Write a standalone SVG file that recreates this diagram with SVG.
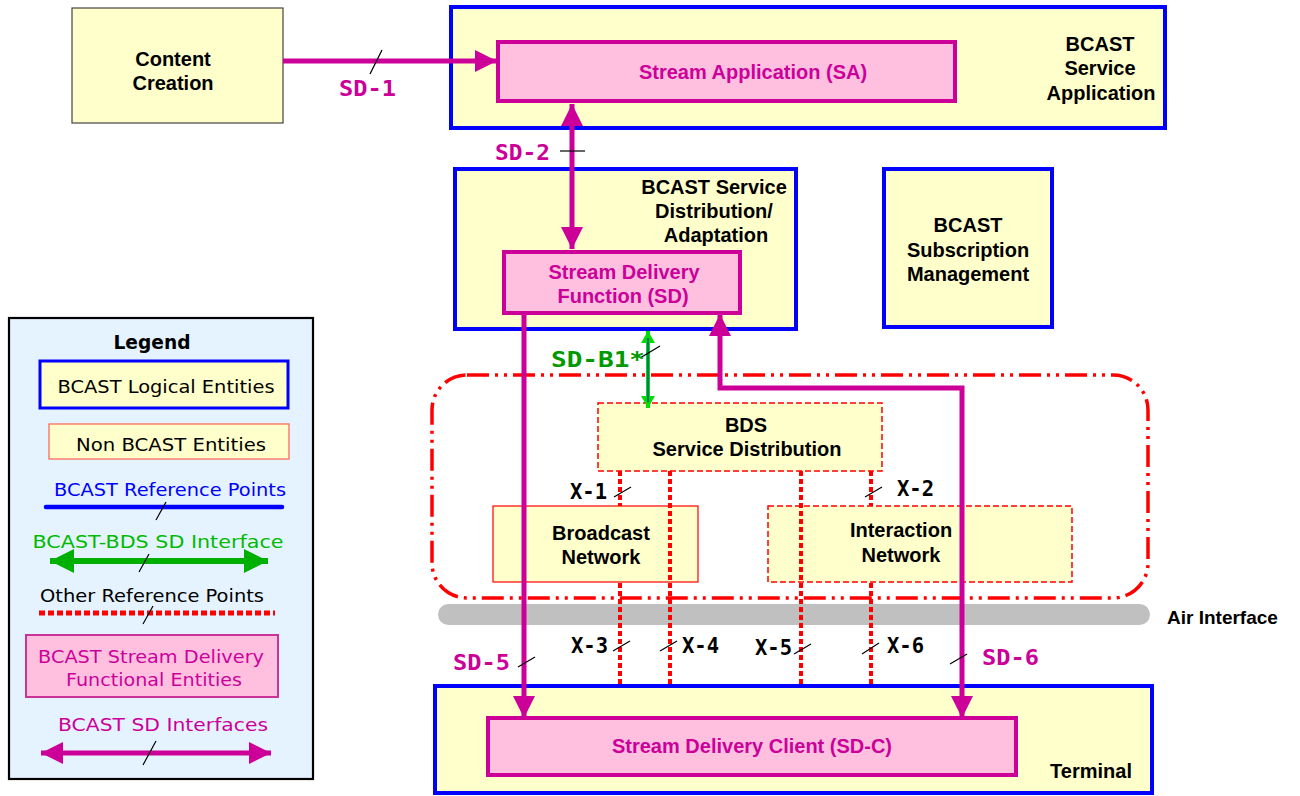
<svg xmlns="http://www.w3.org/2000/svg" width="1300" height="796" viewBox="0 0 1300 796">
<style>
.blue{fill:#FFFFCC;stroke:#0000FF;stroke-width:4}
.pink{fill:#FFC0E0;stroke:#CC0099;stroke-width:4}
.non{fill:#FFFFCC;stroke:#FF0000;stroke-width:1.2}
.nond{fill:#FFFFCC;stroke:#FF0000;stroke-width:1.5;stroke-dasharray:6 3}
.t{font-family:"Liberation Sans",Arial,sans-serif;font-weight:bold;font-size:20px;fill:#000;text-anchor:middle}
.tm{font-family:"Liberation Sans",Arial,sans-serif;font-weight:bold;font-size:20px;fill:#CC0099;text-anchor:middle}
.lab{font-family:"DejaVu Sans Mono",monospace;font-weight:bold;font-size:21px}
.lg{font-family:"DejaVu Sans","Noto Sans",sans-serif;font-size:18px;text-anchor:middle}
.tick{stroke:#000;stroke-width:1.2}
.sd{fill:none;stroke:#CC0099;stroke-width:5}
.dot{fill:none;stroke:#FF0000;stroke-width:4;stroke-dasharray:5 3}
</style>
<defs>
<marker id="mh" viewBox="0 0 10 10" refX="10" refY="5" markerWidth="22" markerHeight="22" markerUnits="userSpaceOnUse" orient="auto-start-reverse"><path d="M0,0 L10,5 L0,10 z" fill="#CC0099"/></marker>
<marker id="gh" viewBox="0 0 10 10" refX="10" refY="5" markerWidth="24" markerHeight="24" markerUnits="userSpaceOnUse" orient="auto-start-reverse"><path d="M0,0 L10,5 L0,10 z" fill="#00B000"/></marker>
<marker id="gs" viewBox="0 0 10 10" refX="10" refY="5" markerWidth="12" markerHeight="14" markerUnits="userSpaceOnUse" orient="auto-start-reverse" preserveAspectRatio="none"><path d="M0,0 L10,5 L0,10 z" fill="#00DD00"/></marker>
</defs>

<!-- background structures -->
<g id="bds-domain">
<rect x="432" y="375" width="716" height="223" rx="35" fill="none" stroke="#FF0000" stroke-width="3.5" stroke-dasharray="22 6 3 6 3 6"/>
</g>
<g id="air-interface">
<rect x="438" y="604" width="712" height="21" rx="10.5" fill="#C0C0C0"/>
<text class="t" x="1167" y="624" style="text-anchor:start;font-size:19px">Air Interface</text>
</g>

<!-- reference points under boxes -->
<g id="ref-under">
<line class="dot" x1="620" y1="471" x2="620" y2="684"/>
<line class="dot" x1="871" y1="471" x2="871" y2="684"/>
</g>

<g id="content-creation">
<rect x="72" y="8" width="211" height="115" fill="#FFFFCC" stroke="#444" stroke-width="1.2"/>
<text class="t" x="173" y="66">Content</text>
<text class="t" x="173" y="90">Creation</text>
</g>

<g id="bcast-service-application">
<rect class="blue" x="451" y="7" width="714" height="121"/>
<text class="t" x="1100" y="51">BCAST</text>
<text class="t" x="1100" y="75">Service</text>
<text class="t" x="1101" y="100">Application</text>
</g>
<g id="stream-application">
<rect class="pink" x="498" y="42" width="457" height="59"/>
<text class="tm" x="753" y="79">Stream Application (SA)</text>
</g>

<g id="bcast-sda">
<rect class="blue" x="455" y="169" width="341" height="160"/>
<text class="t" x="714" y="194">BCAST Service</text>
<text class="t" x="714" y="218">Distribution/</text>
<text class="t" x="716" y="242">Adaptation</text>
</g>
<g id="stream-delivery-function">
<rect class="pink" x="504" y="252" width="236" height="61"/>
<text class="tm" x="624" y="279">Stream Delivery</text>
<text class="tm" x="623" y="303">Function (SD)</text>
</g>

<g id="bcast-subscription">
<rect class="blue" x="884" y="169" width="168" height="158"/>
<text class="t" x="968" y="232">BCAST</text>
<text class="t" x="968" y="257">Subscription</text>
<text class="t" x="968" y="281">Management</text>
</g>

<g id="bds-service-distribution">
<rect class="nond" x="598" y="403" width="284" height="68"/>
<text class="t" x="746" y="432">BDS</text>
<text class="t" x="747" y="456">Service Distribution</text>
</g>
<g id="broadcast-network">
<rect class="non" x="493" y="506" width="205" height="76"/>
<text class="t" x="601" y="540">Broadcast</text>
<text class="t" x="601" y="564">Network</text>
</g>
<g id="interaction-network">
<rect class="nond" x="768" y="506" width="304" height="76"/>
<text class="t" x="901" y="537">Interaction</text>
<text class="t" x="901" y="562">Network</text>
</g>

<g id="terminal">
<rect class="blue" x="435" y="686" width="717" height="107"/>
<text class="t" x="1091" y="778">Terminal</text>
</g>
<g id="stream-delivery-client">
<rect class="pink" x="488" y="718" width="528" height="57"/>
<text class="tm" x="752" y="753">Stream Delivery Client (SD-C)</text>
</g>

<!-- connectors -->
<g id="connectors">
<line class="dot" x1="670" y1="471" x2="670" y2="687"/>
<line class="dot" x1="801" y1="471" x2="801" y2="684"/>
<line class="sd" x1="283" y1="61" x2="497" y2="61" marker-end="url(#mh)"/>
<line class="sd" x1="572" y1="104" x2="572" y2="249" marker-start="url(#mh)" marker-end="url(#mh)"/>
<line class="sd" x1="524" y1="313" x2="524" y2="718" marker-end="url(#mh)"/>
<polyline class="sd" points="720,314 720,388 962,388 962,718" marker-start="url(#mh)" marker-end="url(#mh)"/>
<line x1="648" y1="331" x2="648" y2="408" stroke="#00DD00" stroke-width="4" marker-start="url(#gs)" marker-end="url(#gs)"/>
<line x1="648" y1="338" x2="648" y2="402" stroke="#0000FF" stroke-width="1"/>

<line class="tick" x1="370" y1="74" x2="382" y2="50"/>
<line class="tick" x1="560" y1="151" x2="585" y2="151"/>
<line class="tick" x1="640" y1="358" x2="660" y2="346"/>
<line class="tick" x1="614" y1="497" x2="631" y2="487"/>
<line class="tick" x1="865" y1="497" x2="882" y2="487"/>
<line class="tick" x1="613" y1="651" x2="630" y2="641"/>
<line class="tick" x1="660" y1="651" x2="677" y2="641"/>
<line class="tick" x1="794" y1="654" x2="811" y2="644"/>
<line class="tick" x1="862" y1="654" x2="879" y2="643"/>
<line class="tick" x1="518" y1="667" x2="535" y2="657"/>
<line class="tick" x1="950" y1="664" x2="967" y2="654"/>

<text class="lab" x="339" y="96" fill="#CC0099" textLength="57" lengthAdjust="spacingAndGlyphs">SD-1</text>
<text class="lab" x="495" y="160" fill="#CC0099" textLength="55" lengthAdjust="spacingAndGlyphs">SD-2</text>
<text class="lab" x="551" y="367" fill="#009900" textLength="94" lengthAdjust="spacingAndGlyphs">SD-B1*</text>
<text class="lab" x="570" y="499" fill="#000" textLength="37" lengthAdjust="spacingAndGlyphs">X-1</text>
<text class="lab" x="897" y="496" fill="#000" textLength="37" lengthAdjust="spacingAndGlyphs">X-2</text>
<text class="lab" x="571" y="653" fill="#000" textLength="37" lengthAdjust="spacingAndGlyphs">X-3</text>
<text class="lab" x="682" y="653" fill="#000" textLength="37" lengthAdjust="spacingAndGlyphs">X-4</text>
<text class="lab" x="755" y="655" fill="#000" textLength="37" lengthAdjust="spacingAndGlyphs">X-5</text>
<text class="lab" x="887" y="653" fill="#000" textLength="37" lengthAdjust="spacingAndGlyphs">X-6</text>
<text class="lab" x="453" y="670" fill="#CC0099" textLength="57" lengthAdjust="spacingAndGlyphs">SD-5</text>
<text class="lab" x="982" y="665" fill="#CC0099" textLength="57" lengthAdjust="spacingAndGlyphs">SD-6</text>
</g>

<!-- legend -->
<g id="legend">
<rect x="9" y="318" width="304" height="461" fill="#E4F3FF" stroke="#000" stroke-width="2.2"/>
<text x="152" y="349" font-family="DejaVu Sans,sans-serif" font-weight="bold" font-size="20" text-anchor="middle" textLength="77" lengthAdjust="spacingAndGlyphs">Legend</text>
<rect x="40" y="361" width="248" height="47" fill="#FFFFCC" stroke="#0000FF" stroke-width="3"/>
<text class="lg" x="166" y="393" textLength="217" lengthAdjust="spacingAndGlyphs">BCAST Logical Entities</text>
<rect x="49" y="424" width="240" height="35" fill="#FFFFCC" stroke="#FF6050" stroke-width="1.2"/>
<text class="lg" x="171" y="451" textLength="190" lengthAdjust="spacingAndGlyphs">Non BCAST Entities</text>
<text class="lg" x="170" y="496" fill="#0000FF" textLength="232" lengthAdjust="spacingAndGlyphs">BCAST Reference Points</text>
<line x1="46" y1="507" x2="282" y2="507" stroke="#0000FF" stroke-width="4.5" stroke-linecap="round"/>
<line class="tick" x1="156" y1="520" x2="166" y2="502"/>
<text class="lg" x="158" y="548" fill="#00BB00" textLength="251" lengthAdjust="spacingAndGlyphs">BCAST-BDS SD Interface</text>
<line x1="50" y1="561" x2="268" y2="561" stroke="#00B000" stroke-width="6" marker-start="url(#gh)" marker-end="url(#gh)"/>
<line class="tick" x1="139" y1="572" x2="149" y2="554"/>
<text class="lg" x="152" y="602" fill="#000" textLength="224" lengthAdjust="spacingAndGlyphs">Other Reference Points</text>
<line x1="39" y1="613" x2="275" y2="613" stroke="#FF0000" stroke-width="5" stroke-dasharray="6 3"/>
<line class="tick" x1="143" y1="624" x2="153" y2="606"/>
<rect x="26" y="635" width="252" height="62" fill="#FFC0E0" stroke="#CC3399" stroke-width="2"/>
<text class="lg" x="151" y="663" fill="#CC0099" textLength="226" lengthAdjust="spacingAndGlyphs">BCAST Stream Delivery</text>
<text class="lg" x="154" y="686" fill="#CC0099" textLength="176" lengthAdjust="spacingAndGlyphs">Functional Entities</text>
<text class="lg" x="163" y="731" fill="#CC0099" textLength="210" lengthAdjust="spacingAndGlyphs">BCAST SD Interfaces</text>
<line x1="41" y1="753" x2="271" y2="753" stroke="#CC0099" stroke-width="5" marker-start="url(#mh)" marker-end="url(#mh)"/>
<line class="tick" x1="143" y1="765" x2="156" y2="741"/>
</g>
</svg>
